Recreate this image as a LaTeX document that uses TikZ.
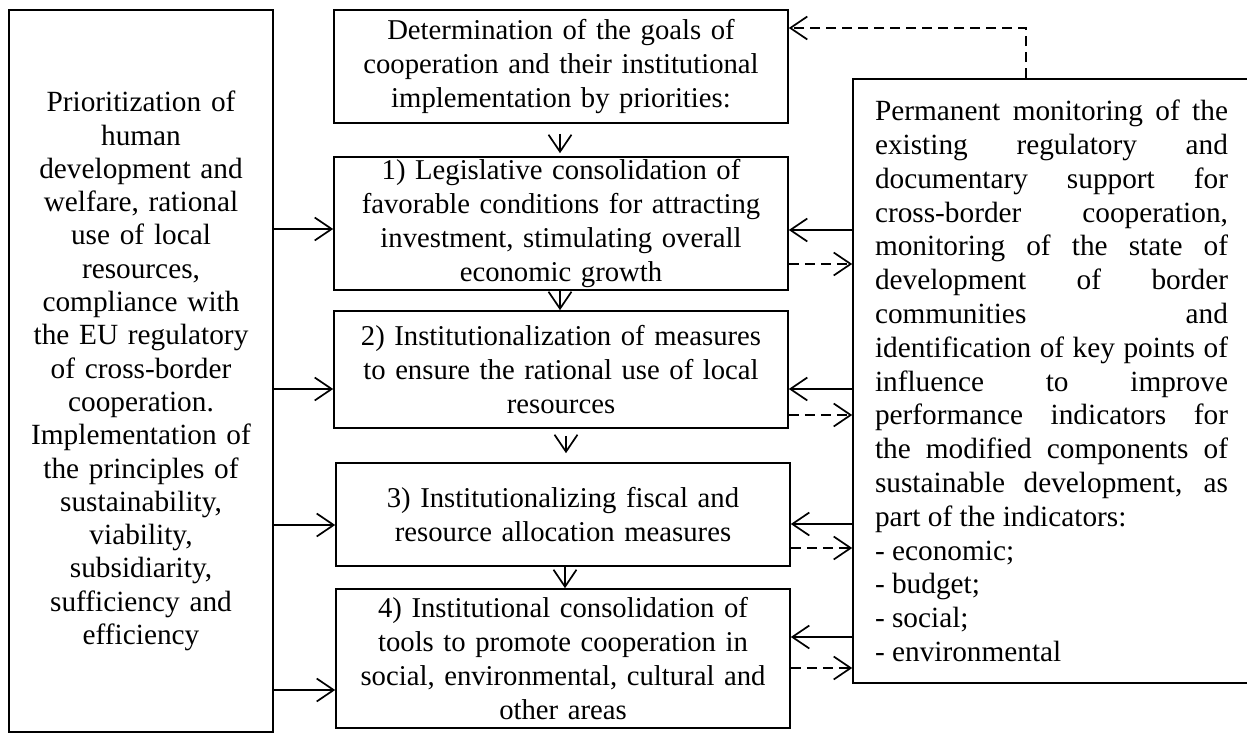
\documentclass[tikz,border=0pt]{standalone}
\usepackage{fontspec}
\setmainfont{Liberation Serif}
\usetikzlibrary{arrows.meta}
\begin{document}
\begin{tikzpicture}[x=1pt,y=-1pt,
  box/.style={draw,line width=1.6pt,inner sep=0pt,anchor=center,align=center},
  conn/.style={line width=1.7pt,-{Straight Barb[length=17pt,width=23pt,line width=1.7pt]}},
  dconn/.style={conn,dash pattern=on 10pt off 6pt},
  midfont/.style={font=\fontsize{28.7}{34}\selectfont}]
\useasboundingbox[fill=white] (0,0) rectangle (1247,733);
% left box
\node[box,minimum width=264pt,minimum height=722pt,text width=250pt,
  font=\fontsize{29.3}{33.3}\selectfont] (L) at (141,371)
  {Prioritization of\\ human\\ development and\\ welfare, rational\\ use of local\\ resources,\\ compliance with\\ the EU regulatory\\ of cross-border\\ cooperation.\\ Implementation of\\ the principles of\\ sustainability,\\ viability,\\ subsidiarity,\\ sufficiency and\\ efficiency};
% middle boxes
\node[box,midfont,minimum width=454pt,minimum height=113pt,text width=440pt] (T) at (561,66.5)
  {Determination of the goals of\\ cooperation and their institutional\\ implementation by priorities:};
\node[box,midfont,minimum width=454pt,minimum height=133pt,text width=440pt] (B1) at (561,223.5)
  {1) Legislative consolidation of\\ favorable conditions for attracting\\ investment, stimulating overall\\ economic growth};
\node[box,midfont,minimum width=454pt,minimum height=117pt,text width=440pt] (B2) at (561,369.5)
  {2) Institutionalization of measures\\ to ensure the rational use of local\\ resources};
\node[box,midfont,minimum width=454pt,minimum height=103pt,text width=440pt] (B3) at (563,514.5)
  {3) Institutionalizing fiscal and\\ resource allocation measures};
\node[box,midfont,minimum width=454pt,minimum height=139pt,text width=440pt] (B4) at (563,658.5)
  {4) Institutional consolidation of\\ tools to promote cooperation in\\ social, environmental, cultural and\\ other areas};
% right box
\node[box,minimum width=397pt,minimum height=604pt,text width=353pt,align=justify,
  font=\fontsize{29.3}{33.8}\selectfont] (R) at (1051.5,381)
  {\setlength{\parfillskip}{0pt plus 1fil}%
  Permanent monitoring of the\linebreak existing regulatory and\linebreak documentary support for\linebreak cross-border cooperation,\linebreak monitoring of the state of\linebreak development of border\linebreak communities and\linebreak identification of key points of\linebreak influence to improve\linebreak performance indicators for\linebreak the modified components of\linebreak sustainable development, as\linebreak part of the indicators:\\
  - economic;\\
  - budget;\\
  - social;\\
  - environmental};
% left arrows
\draw[conn] (L.east |- 0,229) -- (B1.west |- 0,229);
\draw[conn] (L.east |- 0,389) -- (B2.west |- 0,389);
\draw[conn] (L.east |- 0,525) -- (B3.west |- 0,525);
\draw[conn] (L.east |- 0,690) -- (B4.west |- 0,690);
% right solid arrows
\draw[conn] (R.west |- 0,230) -- (B1.east |- 0,230);
\draw[conn] (R.west |- 0,389) -- (B2.east |- 0,389);
\draw[conn] (R.west |- 0,524) -- (B3.east |- 0,524);
\draw[conn] (R.west |- 0,637) -- (B4.east |- 0,637);
% right dashed arrows
\draw[dconn] (B1.east |- 0,264) -- (R.west |- 0,264);
\draw[dconn] (B2.east |- 0,415) -- (R.west |- 0,415);
\draw[dconn] (B3.east |- 0,548) -- (R.west |- 0,548);
\draw[dconn] (B4.east |- 0,668) -- (R.west |- 0,668);
% top dashed feedback
\draw[dconn] (R.north -| 1026,0) |- (T.east |- 0,28);
% vertical arrows
\draw[conn,shorten <=10pt,shorten >=3pt] (T.south -| 560,0) -- (B1.north -| 560,0);
\draw[conn] (B1.south -| 560,0) -- (B2.north -| 560,0);
\draw[conn,shorten <=7pt,shorten >=9pt] (B2.south -| 566,0) -- (B3.north -| 566,0);
\draw[conn] (B3.south -| 565,0) -- (B4.north -| 565,0);
\end{tikzpicture}
\end{document}
